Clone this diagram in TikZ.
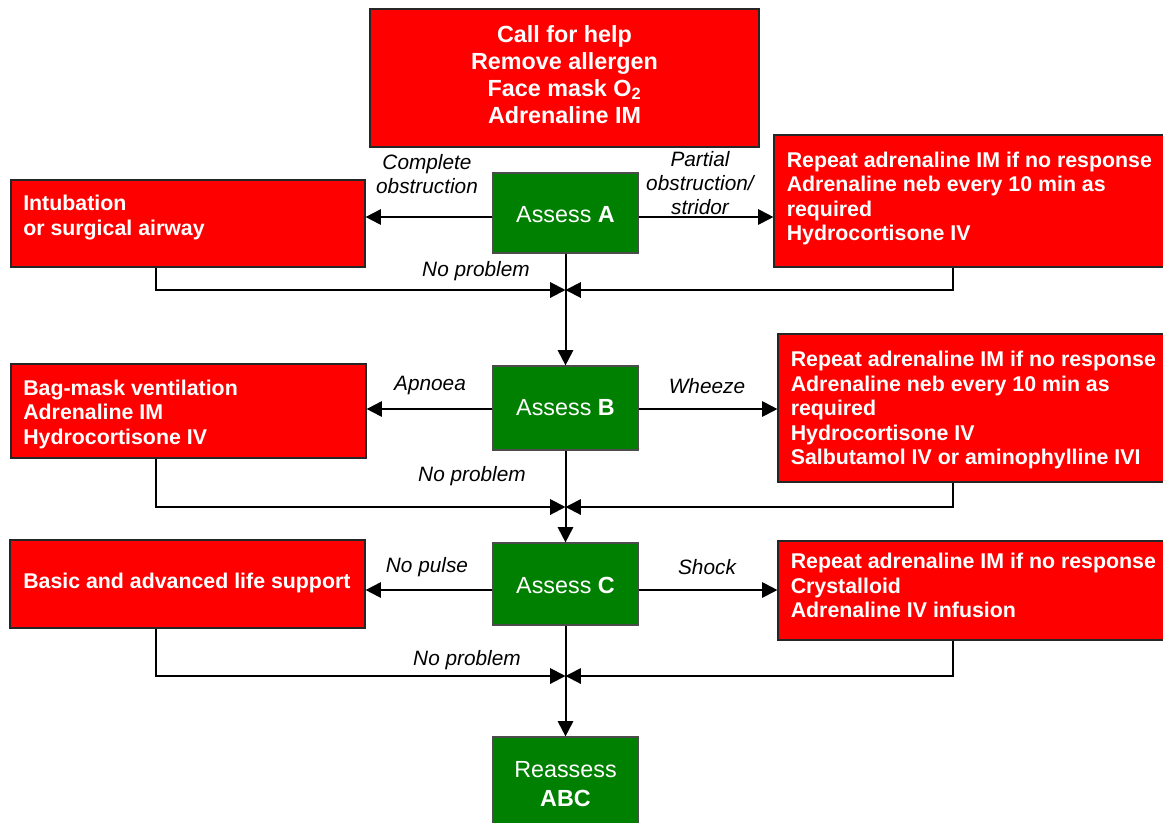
\documentclass[tikz,border=0pt]{standalone}
\usepackage{fontspec}
\setmainfont{Liberation Sans}
\usetikzlibrary{arrows.meta,calc}
\definecolor{alertred}{RGB}{255,0,0}
\definecolor{okgreen}{RGB}{0,128,0}

\begin{document}
\begin{tikzpicture}[x=0.75pt,y=-0.75pt,
  redbox/.style={draw=black!85, line width=0.9pt, fill=alertred, inner sep=0pt},
  toptext/.style={text=white, inner sep=0pt, align=center,
    font=\bfseries\fontsize{17.5}{20.25}\selectfont},
  greenbox/.style={draw=black!70, line width=0.9pt, fill=okgreen, text=white,
    inner sep=0pt, align=center, minimum width=108.75pt,
    font=\fontsize{17.5}{21.75}\selectfont},
  greentext/.style={text=white, inner sep=0pt, align=center,
    font=\fontsize{17.5}{21.75}\selectfont},
  boxtext/.style={text=white, inner sep=0pt, anchor=north west, align=left,
    font=\bfseries\fontsize{16}{18.4}\selectfont},
  lbl/.style={inner sep=0pt, align=center, font=\itshape\fontsize{15.6}{18}\selectfont},
  arr/.style={line width=1.5pt, -{Triangle[length=11.5pt,width=11.5pt]}},
]
\useasboundingbox (0,0) rectangle (1163,822);
\clip (0,0) rectangle (1163,822);

% ---- boxes ----
\node[redbox, minimum width=291.75pt, minimum height=103.5pt] (top) at (564.5,78) {};
\node[toptext] (ttop) at (564.5,74.5)
  {Call for help\\Remove allergen\\Face mask O\textsubscript{2}\\Adrenaline IM};

\node[greenbox, minimum height=60pt]    (ga) at (565.5,213)   {};
\node[greentext] (tga) at (565.5,215) {Assess \textbf{A}};
\node[greenbox, minimum height=63pt]    (gb) at (565.5,408)   {};
\node[greentext] (tgb) at (565.5,408) {Assess \textbf{B}};
\node[greenbox, minimum height=61.5pt]  (gc) at (565.5,584)   {};
\node[greentext] (tgc) at (565.5,585.5) {Assess \textbf{C}};
\node[greenbox, minimum height=120pt]   (gr) at (565.5,817)   {};
\node[greentext] (tgr) at (565.5,784) {Reassess\\\textbf{ABC}};

\node[redbox, minimum width=265.5pt,  minimum height=65.25pt] (la) at (188,223.5) {};
\node[redbox, minimum width=310pt,    minimum height=99pt]    (ra) at (980.7,201) {};
\node[redbox, minimum width=266.25pt, minimum height=70.5pt]  (lb) at (188.5,411) {};
\node[redbox, minimum width=310pt,    minimum height=111pt]   (rb) at (984.7,408) {};
\node[redbox, minimum width=266.25pt, minimum height=66pt]    (lc) at (187.5,584) {};
\node[redbox, minimum width=310pt,    minimum height=74.25pt] (rc) at (984.7,590.5) {};

% ---- box texts ----
\node[boxtext] (tla) at (23,195) {Intubation\\or surgical airway};
\node[boxtext] (tra) at (786.5,151.5) {Repeat adrenaline IM if no response\\Adrenaline neb every 10 min as\\required\\Hydrocortisone IV};
\node[boxtext] (tlb) at (23,379.5) {Bag-mask ventilation\\Adrenaline IM\\Hydrocortisone IV};
\node[boxtext] (trb) at (790.5,351) {Repeat adrenaline IM if no response\\Adrenaline neb every 10 min as\\required\\Hydrocortisone IV\\Salbutamol IV or aminophylline IVI};
\node[boxtext] (tlc) at (23,573) {Basic and advanced life support};
\node[boxtext] (trc) at (790.5,553) {Repeat adrenaline IM if no response\\Crystalloid\\Adrenaline IV infusion};

% ---- reference points ----
\coordinate (yA) at (0,217);
\coordinate (yB) at (0,409);
\coordinate (yC) at (0,590);
\coordinate (dropL) at (155.5,0);
\coordinate (dropR) at (953,0);
\coordinate (mA) at (565.5,290);
\coordinate (mB) at (565.5,507);
\coordinate (mC) at (565.5,676);

% ---- branch arrows ----
\draw[arr] (ga.west |- yA) -- (la.east |- yA);
\draw[arr] (ga.east |- yA) -- (ra.west |- yA);
\draw[arr] (gb.west |- yB) -- (lb.east |- yB);
\draw[arr] (gb.east |- yB) -- (rb.west |- yB);
\draw[arr] (gc.west |- yC) -- (lc.east |- yC);
\draw[arr] (gc.east |- yC) -- (rc.west |- yC);

% ---- return paths ----
\draw[arr] (la.south -| dropL) -- (dropL |- mA) -- (mA);
\draw[arr] (ra.south -| dropR) -- (dropR |- mA) -- (mA);
\draw[arr] (lb.south -| dropL) -- (dropL |- mB) -- (mB);
\draw[arr] (rb.south -| dropR) -- (dropR |- mB) -- (mB);
\draw[arr] (lc.south -| dropL) -- (dropL |- mC) -- (mC);
\draw[arr] (rc.south -| dropR) -- (dropR |- mC) -- (mC);

% ---- main line ----
\draw[arr] (ga.south) -- (gb.north);
\draw[arr] (gb.south) -- (gc.north);
\draw[arr] (gc.south) -- (gr.north);

% ---- labels ----
\node[lbl] (lcomp) at (427,174) {Complete\\obstruction};
\node[lbl] (lpart) at (700,183) {Partial\\obstruction/\\stridor};
\node[lbl] (lnpa)  at (476,271) {No problem};
\node[lbl] (lapn)  at (430,385) {Apnoea};
\node[lbl] (lwhz)  at (707,386) {Wheeze};
\node[lbl] (lnpb)  at (472,476) {No problem};
\node[lbl] (lnpu)  at (427,567) {No pulse};
\node[lbl] (lshk)  at (707,567) {Shock};
\node[lbl] (lnpc)  at (467,660) {No problem};
\end{tikzpicture}
\end{document}
